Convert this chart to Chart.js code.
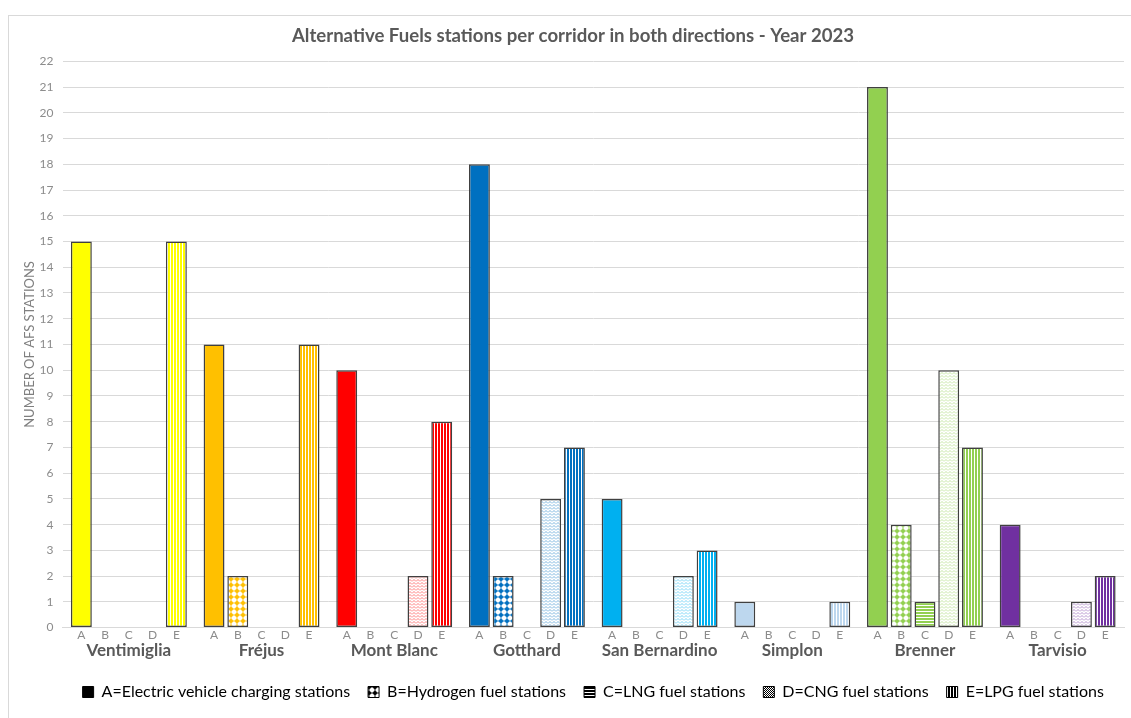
<!DOCTYPE html>
<html>
<head>
<meta charset="utf-8">
<script src="https://cdn.jsdelivr.net/npm/chart.js@4.4.1/dist/chart.umd.min.js"></script>
<style>
  html, body { margin: 0; padding: 0; background: #fff; }
  #wrap { width: 1131px; height: 718px; }
</style>
</head>
<body>
<div id="wrap"><canvas id="chart"></canvas></div>
<script>
const corridors = ["Ventimiglia", "Fréjus", "Mont Blanc", "Gotthard", "San Bernardino", "Simplon", "Brenner", "Tarvisio"];
const fuelLetters = ["A", "B", "C", "D", "E"];
const fuelNames = [
    "A=Electric vehicle charging stations",
    "B=Hydrogen fuel stations",
    "C=LNG fuel stations",
    "D=CNG fuel stations",
    "E=LPG fuel stations",
];
const electric = [15, 11, 10, 18, 5, 1, 21, 4];
const hydrogen = [0, 2, 0, 2, 0, 0, 4, 0];
const lng = [0, 0, 0, 0, 0, 0, 1, 0];
const cng = [0, 0, 2, 5, 2, 0, 10, 1];
const lpg = [15, 11, 8, 7, 3, 1, 7, 2];
const yTicksMax = 22;

const corridorColors = ["#ffff00", "#ffc000", "#ff0000", "#0070c0", "#00b0f0", "#bdd7ee", "#92d050", "#7030a0"];
const patternKinds = ["solid", "dots", "hstripe", "wave", "vstripe"];

// small tiles for the hatch fills
const make_pattern = (kind, color) => {
    if (kind === "solid") return color;
    const c = document.createElement("canvas");
    const g = c.getContext("2d");
    if (kind === "dots") {
        c.width = 6; c.height = 6;
        g.fillStyle = "#fff"; g.fillRect(0, 0, 6, 6);
        g.fillStyle = color;
        g.beginPath(); g.arc(3, 3, 2, 0, Math.PI * 2); g.fill();
        g.fillRect(0, 2.5, 6, 1); g.fillRect(2.5, 0, 1, 6);
    } else if (kind === "hstripe") {
        c.width = 3; c.height = 3;
        g.fillStyle = "#fff"; g.fillRect(0, 0, 3, 3);
        g.fillStyle = color; g.fillRect(0, 0, 3, 2);
    } else if (kind === "wave") {
        c.width = 4; c.height = 3;
        g.fillStyle = "#fff"; g.fillRect(0, 0, 4, 3);
        g.strokeStyle = color; g.globalAlpha = 0.5; g.lineWidth = 1;
        g.beginPath(); g.moveTo(0, 2.5); g.lineTo(2, 0.5); g.lineTo(4, 2.5); g.stroke();
    } else if (kind === "check") {
        c.width = 2; c.height = 2;
        g.fillStyle = "#fff"; g.fillRect(0, 0, 2, 2);
        g.fillStyle = color; g.fillRect(0, 0, 1, 1); g.fillRect(1, 1, 1, 1);
    } else if (kind === "vstripe") {
        c.width = 3; c.height = 3;
        g.fillStyle = "#fff"; g.fillRect(0, 0, 3, 3);
        g.fillStyle = color; g.fillRect(0, 0, 2, 3);
    }
    return g.createPattern(c, "repeat");
};

const seriesValues = [electric, hydrogen, lng, cng, lpg];

const datasets = seriesValues.map((vals, i) => ({
    label: fuelNames[i],
    data: vals,
    backgroundColor: corridorColors.map((col) => make_pattern(patternKinds[i], col)),
    borderColor: "#404040",
    borderWidth: (ctx) => (ctx.raw ? 1.5 : 0),
    borderSkipped: false,
    categoryPercentage: 0.895,
    barPercentage: 0.88,
}));

const legendSwatches = patternKinds.map((k) => make_pattern(k === "wave" ? "check" : k, "#000"));

// letters under each bar + outer frame
const extras = {
    id: "extras",
    beforeDraw(chart) {
        const ctx = chart.ctx;
        ctx.save();
        ctx.strokeStyle = "#d9d9d9";
        ctx.lineWidth = 1;
        ctx.strokeRect(8.5, 15.5, 1200, 800);
        ctx.restore();
    },
    afterDraw(chart) {
        const ctx = chart.ctx;
        ctx.save();
        ctx.font = "12px Lato";
        ctx.fillStyle = "#8c8c8c";
        ctx.textAlign = "center";
        ctx.textBaseline = "middle";
        chart.data.datasets.forEach((ds, i) => {
            chart.getDatasetMeta(i).data.forEach((bar) => {
                ctx.fillText(fuelLetters[i], bar.x, chart.chartArea.bottom + 8);
            });
        });
        ctx.restore();
    },
};

const ctx = document.getElementById("chart").getContext("2d");
const chart = new Chart(ctx, {
    type: "bar",
    data: { labels: corridors, datasets: datasets },
    plugins: [extras],
    options: {
        responsive: true,
        maintainAspectRatio: false,
        animation: false,
        layout: { padding: { top: 21, left: 22, right: 7, bottom: 8 } },
        plugins: {
            title: {
                display: true,
                text: "Alternative Fuels stations per corridor in both directions - Year 2023",
                color: "#595959",
                font: { family: "Lato", size: 18.6, weight: "bold" },
                padding: { top: 4, bottom: 14 },
            },
            legend: {
                position: "bottom",
                fullSize: false,
                labels: {
                    color: "#595959",
                    font: { family: "Lato", size: 16 },
                    boxWidth: 11,
                    boxHeight: 11,
                    padding: 18,
                    generateLabels: (chart) =>
                        fuelNames.map((name, i) => ({
                            text: name,
                            fillStyle: legendSwatches[i],
                            strokeStyle: "#000",
                            lineWidth: 1,
                            datasetIndex: i,
                        })),
                },
            },
            tooltip: { enabled: false },
        },
        scales: {
            x: {
                grid: { display: false, drawTicks: false },
                border: { color: "#d9d9d9" },
                ticks: {
                    color: "#595959",
                    font: { family: "Lato", size: 17, weight: "bold" },
                    padding: 13,
                },
                afterFit: (scale) => {
                    scale.height -= 8;
                },
            },
            y: {
                min: 0,
                max: yTicksMax,
                grid: { color: "#d9d9d9", drawTicks: false },
                border: { display: false },
                ticks: {
                    stepSize: 1,
                    color: "#8c8c8c",
                    font: { family: "Lato", size: 12 },
                    padding: 9,
                },
                title: {
                    display: true,
                    text: "NUMBER OF AFS STATIONS",
                    color: "#7f7f7f",
                    font: { family: "Lato", size: 13 },
                    padding: { top: 0, bottom: 0 },
                },
                afterFit: (scale) => {
                    scale.width -= 7;
                },
            },
        },
    },
});
</script>
</body>
</html>
